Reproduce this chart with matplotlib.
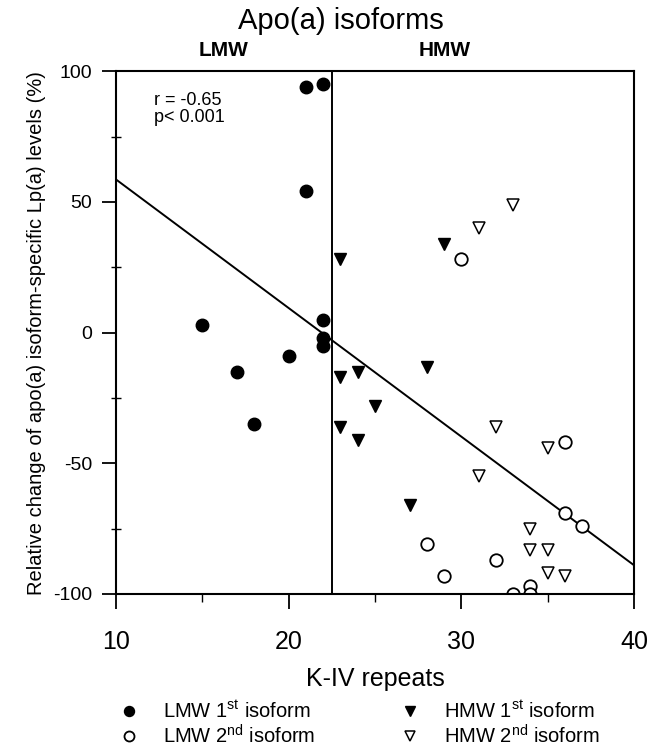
import matplotlib.pyplot as plt
from matplotlib.ticker import MultipleLocator

plt.rcParams['font.family'] = ['Liberation Sans', 'DejaVu Sans']
plt.rcParams['mathtext.fontset'] = 'custom'
plt.rcParams['mathtext.rm'] = 'Liberation Sans'
plt.rcParams['axes.unicode_minus'] = False

# data
lmw1_x = [15, 17, 18, 20, 21, 21, 22, 22, 22, 22]
lmw1_y = [3, -15, -35, -9, 94, 54, 95, 5, -2, -5]
lmw2_x = [30, 36, 36, 37, 28, 32, 29, 34, 33, 34]
lmw2_y = [28, -42, -69, -74, -81, -87, -93, -97, -100, -100]
hmw1_x = [23, 29, 23, 24, 28, 25, 23, 24, 27]
hmw1_y = [28, 34, -17, -15, -13, -28, -36, -41, -66]
hmw2_x = [33, 31, 32, 35, 31, 34, 34, 35, 35, 36]
hmw2_y = [49, 40, -36, -44, -55, -75, -83, -83, -92, -93]
fit_x = [10, 40]
fit_y = [58.6, -89]
cutoff = 22.5

fig = plt.figure(figsize=(6.61, 7.5), dpi=100)
ax = fig.add_axes([0.1755, 0.208, 0.7837, 0.697])

ax.plot(fit_x, fit_y, 'k-', lw=1.4, zorder=1)
ax.axvline(cutoff, color='k', lw=1.4, zorder=1)

ms = 9
ax.plot(lmw1_x, lmw1_y, 'o', color='k', ms=ms, ls='none', label=r'LMW 1$^{\mathregular{st}}$ isoform')
ax.plot(lmw2_x, lmw2_y, 'o', mfc='white', mec='k', mew=1.3, ms=ms, ls='none', label=r'LMW 2$^{\mathregular{nd}}$ isoform')
ax.plot(hmw1_x, hmw1_y, 'v', color='k', ms=ms, ls='none', label=r'HMW 1$^{\mathregular{st}}$ isoform')
ax.plot(hmw2_x, hmw2_y, 'v', mfc='white', mec='k', mew=1.1, ms=ms, ls='none', label=r'HMW 2$^{\mathregular{nd}}$ isoform')

ax.set_xlim(10, 40)
ax.set_ylim(-100, 100)
ax.set_xticks([10, 20, 30, 40])
ax.set_yticks([-100, -50, 0, 50, 100])
ax.xaxis.set_minor_locator(MultipleLocator(5))
ax.yaxis.set_minor_locator(MultipleLocator(25))
ax.tick_params(axis='x', which='major', labelsize=18, length=11, width=1.3, direction='out', pad=15)
ax.tick_params(axis='x', which='minor', length=6, width=1, direction='out')
ax.tick_params(axis='y', which='major', labelsize=14, length=10, width=1.3, direction='out', pad=7)
ax.tick_params(axis='y', which='minor', length=7, width=1, direction='inout')
for s in ax.spines.values():
    s.set_linewidth(1.5)

ax.set_xlabel('K-IV repeats', fontsize=18, labelpad=9)
ax.set_ylabel('Relative change of apo(a) isoform-specific Lp(a) levels (%)', fontsize=14.5, labelpad=5)

ax.text(12.2, 85.5, 'r = -0.65\np< 0.001', fontsize=13, va='center', ha='left', linespacing=0.95)
ax.text(16.25, 108, 'LMW', fontsize=15, fontweight='bold', ha='center', va='center')
ax.text(29.05, 108, 'HMW', fontsize=15, fontweight='bold', ha='center', va='center')
fig.text(0.515, 0.972, 'Apo(a) isoforms', fontsize=21, ha='center', va='center')

handles, labels = ax.get_legend_handles_labels()
fig.legend(handles, labels, ncol=2, loc='upper left', bbox_to_anchor=(0.155, 0.082),
           frameon=False, fontsize=14.5, columnspacing=4.0, handletextpad=1.0,
           labelspacing=0.1, markerscale=0.8, handlelength=1.4, borderpad=0.1)

fig.savefig('out.png', dpi=100)
